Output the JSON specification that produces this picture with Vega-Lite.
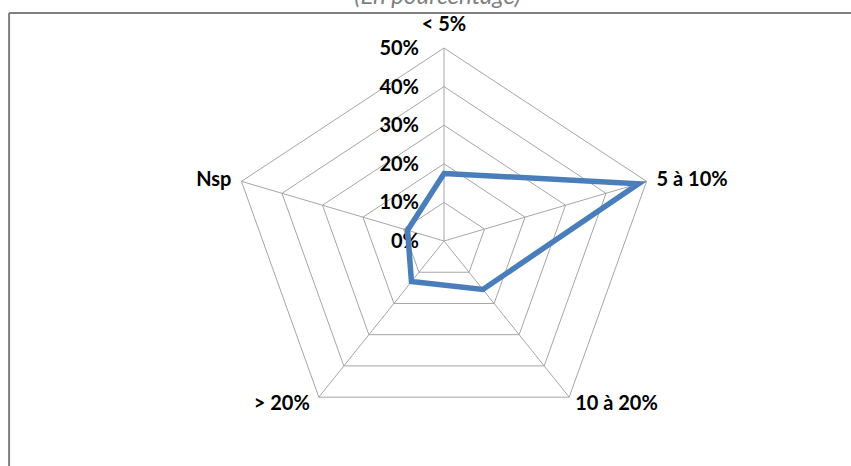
{
  "$schema": "https://vega.github.io/schema/vega-lite/v6.json",
  "width": 851,
  "height": 466,
  "autosize": "none",
  "padding": 0,
  "background": "white",
  "config": {"view": {"stroke": null}},
  "title": {
    "text": "(En pourcentage)",
    "font": "Lato",
    "fontSize": 24,
    "fontStyle": "italic",
    "fontWeight": "normal",
    "color": "#7f7f7f",
    "anchor": "middle",
    "offset": -9,
    "dx": 12
  },
  "datasets": {
    "axes": [
      {"cat": "< 5%", "k": 0, "value": 17.5},
      {"cat": "5 à 10%", "k": 1, "value": 48},
      {"cat": "10 à 20%", "k": 2, "value": 15.5},
      {"cat": "> 20%", "k": 3, "value": 13},
      {"cat": "Nsp", "k": 4, "value": 9}
    ],
    "rings": [
      {"level": 10, "k": 0}, {"level": 10, "k": 1}, {"level": 10, "k": 2}, {"level": 10, "k": 3}, {"level": 10, "k": 4},
      {"level": 20, "k": 0}, {"level": 20, "k": 1}, {"level": 20, "k": 2}, {"level": 20, "k": 3}, {"level": 20, "k": 4},
      {"level": 30, "k": 0}, {"level": 30, "k": 1}, {"level": 30, "k": 2}, {"level": 30, "k": 3}, {"level": 30, "k": 4},
      {"level": 40, "k": 0}, {"level": 40, "k": 1}, {"level": 40, "k": 2}, {"level": 40, "k": 3}, {"level": 40, "k": 4},
      {"level": 50, "k": 0}, {"level": 50, "k": 1}, {"level": 50, "k": 2}, {"level": 50, "k": 3}, {"level": 50, "k": 4}
    ],
    "ticks": [
      {"level": 0, "label": "0%"},
      {"level": 10, "label": "10%"},
      {"level": 20, "label": "20%"},
      {"level": 30, "label": "30%"},
      {"level": 40, "label": "40%"},
      {"level": 50, "label": "50%"}
    ]
  },
  "layer": [
    {
      "data": {"values": [{"side": "left"}]},
      "mark": {"type": "rule", "color": "#808080", "strokeWidth": 2},
      "encoding": {
        "x": {"datum": -102.1, "type": "quantitative", "scale": {"domain": [-104.23, 95.54], "nice": false, "zero": false}, "axis": null},
        "y": {"datum": 59.07, "type": "quantitative", "scale": {"domain": [-58.29, 62.44], "nice": false, "zero": false}, "axis": null},
        "y2": {"datum": -58.29}
      }
    },
    {
      "data": {"values": [{"side": "top"}]},
      "mark": {"type": "rule", "color": "#808080", "strokeWidth": 2},
      "encoding": {
        "x": {"datum": -102.1, "type": "quantitative", "scale": {"domain": [-104.23, 95.54], "nice": false, "zero": false}, "axis": null},
        "x2": {"datum": 95.54},
        "y": {"datum": 59.07, "type": "quantitative", "scale": {"domain": [-58.29, 62.44], "nice": false, "zero": false}, "axis": null}
      }
    },
    {
      "data": {"name": "rings"},
      "transform": [
        {"calculate": "datum.k * 2 * PI / 5", "as": "ang"},
        {"calculate": "datum.level * sin(datum.ang)", "as": "px"},
        {"calculate": "datum.level * cos(datum.ang)", "as": "py"}
      ],
      "mark": {"type": "line", "interpolate": "linear-closed", "color": "#a6a6a6", "strokeWidth": 1},
      "encoding": {
        "x": {"field": "px", "type": "quantitative", "scale": {"domain": [-104.23, 95.54], "nice": false, "zero": false}, "axis": null},
        "y": {"field": "py", "type": "quantitative", "scale": {"domain": [-58.29, 62.44], "nice": false, "zero": false}, "axis": null},
        "detail": {"field": "level"},
        "order": {"field": "k", "type": "quantitative"}
      }
    },
    {
      "data": {"name": "axes"},
      "transform": [
        {"calculate": "datum.k * 2 * PI / 5", "as": "ang"},
        {"calculate": "50 * sin(datum.ang)", "as": "px"},
        {"calculate": "50 * cos(datum.ang)", "as": "py"}
      ],
      "mark": {"type": "rule", "color": "#a6a6a6", "strokeWidth": 1},
      "encoding": {
        "x": {"field": "px", "type": "quantitative", "scale": {"domain": [-104.23, 95.54], "nice": false, "zero": false}, "axis": null},
        "y": {"field": "py", "type": "quantitative", "scale": {"domain": [-58.29, 62.44], "nice": false, "zero": false}, "axis": null},
        "x2": {"datum": 0},
        "y2": {"datum": 0}
      }
    },
    {
      "data": {"name": "ticks"},
      "transform": [
        {"calculate": "0", "as": "px"}
      ],
      "mark": {"type": "text", "align": "right", "baseline": "middle", "dx": -25, "dy": 1, "font": "Lato", "fontWeight": "bold", "fontSize": 20, "color": "#000000"},
      "encoding": {
        "x": {"field": "px", "type": "quantitative", "scale": {"domain": [-104.23, 95.54], "nice": false, "zero": false}, "axis": null},
        "y": {"field": "level", "type": "quantitative", "scale": {"domain": [-58.29, 62.44], "nice": false, "zero": false}, "axis": null},
        "text": {"field": "label"}
      }
    },
    {
      "data": {"name": "axes"},
      "transform": [
        {"calculate": "datum.k * 2 * PI / 5", "as": "ang"},
        {"calculate": "datum.value * sin(datum.ang)", "as": "px"},
        {"calculate": "datum.value * cos(datum.ang)", "as": "py"}
      ],
      "mark": {"type": "line", "interpolate": "linear-closed", "color": "#4a7ebb", "strokeWidth": 5.5, "strokeJoin": "miter"},
      "encoding": {
        "x": {"field": "px", "type": "quantitative", "scale": {"domain": [-104.23, 95.54], "nice": false, "zero": false}, "axis": null},
        "y": {"field": "py", "type": "quantitative", "scale": {"domain": [-58.29, 62.44], "nice": false, "zero": false}, "axis": null},
        "order": {"field": "k", "type": "quantitative"}
      }
    },
    {
      "data": {"name": "axes"},
      "transform": [
        {"calculate": "datum.k * 2 * PI / 5", "as": "ang"},
        {"calculate": "50 * sin(datum.ang)", "as": "px"},
        {"calculate": "50 * cos(datum.ang)", "as": "py"}
      ],
      "encoding": {
        "x": {"field": "px", "type": "quantitative", "scale": {"domain": [-104.23, 95.54], "nice": false, "zero": false}, "axis": null},
        "y": {"field": "py", "type": "quantitative", "scale": {"domain": [-58.29, 62.44], "nice": false, "zero": false}, "axis": null},
        "text": {"field": "cat"}
      },
      "layer": [
        {
          "transform": [{"filter": "datum.k == 0"}],
          "mark": {"type": "text", "align": "center", "baseline": "middle", "dy": -23, "font": "Lato", "fontWeight": "bold", "fontSize": 20, "color": "#000000"}
        },
        {
          "transform": [{"filter": "datum.k == 1"}],
          "mark": {"type": "text", "align": "left", "baseline": "middle", "dx": 10, "dy": -1, "font": "Lato", "fontWeight": "bold", "fontSize": 20, "color": "#000000"}
        },
        {
          "transform": [{"filter": "datum.k == 2"}],
          "mark": {"type": "text", "align": "left", "baseline": "middle", "dx": 6, "dy": 7, "font": "Lato", "fontWeight": "bold", "fontSize": 20, "color": "#000000"}
        },
        {
          "transform": [{"filter": "datum.k == 3"}],
          "mark": {"type": "text", "align": "right", "baseline": "middle", "dx": -9, "dy": 7, "font": "Lato", "fontWeight": "bold", "fontSize": 20, "color": "#000000"}
        },
        {
          "transform": [{"filter": "datum.k == 4"}],
          "mark": {"type": "text", "align": "right", "baseline": "middle", "dx": -10, "dy": -1, "font": "Lato", "fontWeight": "bold", "fontSize": 20, "color": "#000000"}
        }
      ]
    }
  ]
}
